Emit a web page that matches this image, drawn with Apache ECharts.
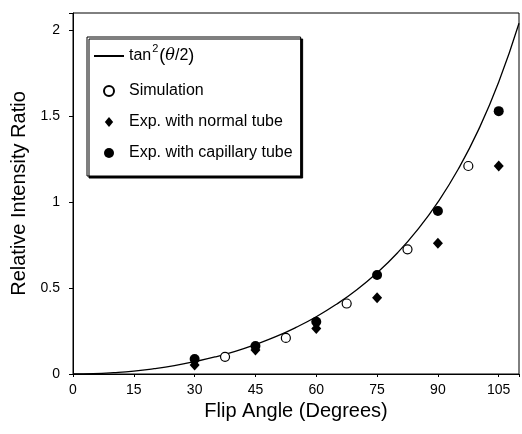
<!DOCTYPE html>
<html>
<head>
    <meta charset="utf-8"/>
    <title>Flip angle</title>
    <script src="https://cdn.jsdelivr.net/npm/echarts@6/dist/echarts.min.js"></script>
    <style>
        html, body { margin: 0; padding: 0; background: #fff; }
        #main { width: 522px; height: 434px; }
    </style>
</head>
<body>
<div id="main"></div>
<script>
    // curve (tan^2(theta/2))
    var curveAngles = [0, 5, 10, 15, 20, 25, 30, 35, 40, 45, 50, 55, 60, 65, 70, 75, 80, 85, 90, 95, 100, 105, 110];
    var curveValues = [0, 0.002, 0.008, 0.017, 0.031, 0.049, 0.072, 0.099, 0.132, 0.172, 0.217, 0.271, 0.333, 0.406, 0.49, 0.589, 0.704, 0.84, 1.0, 1.191, 1.42, 1.698, 2.04];

    // simulation (open circles)
    var simAngles = [37.5, 52.5, 67.5, 82.5, 97.5];
    var simValues = [0.10, 0.21, 0.41, 0.725, 1.21];

    // exp. with normal tube (diamonds)
    var expAngles = [30, 45, 60, 75, 90, 105];
    var normalValues = [0.052, 0.14, 0.265, 0.444, 0.76, 1.21];

    // exp. with capillary tube (filled circles)
    var capillaryValues = [0.087, 0.163, 0.304, 0.576, 0.948, 1.529];

    var xTicks = [0, 15, 30, 45, 60, 75, 90, 105];
    var yTicks = [0, 0.5, 1, 1.5, 2];

    function pairs(xs, ys) {
        return xs.map(function (x, i) { return [x, ys[i]]; });
    }

    var font = '"Liberation Sans", Arial, Helvetica, sans-serif';
    // legend diamond: the extra move-to points keep the icon box wide
    var diamondIcon = 'path://M0,-1M30,11M10,5L15,-1L20,5L15,11Z';

    var myChart = echarts.init(document.getElementById('main'));
    var option = {
        animation: false,
        textStyle: { fontFamily: font, color: '#000' },
        grid: {
            left: 73, right: 1, top: 13, bottom: 60,
            show: true, borderColor: '#000', borderWidth: 1
        },
        legend: {
            orient: 'vertical',
            left: 87, top: 37,
            padding: [6, 8, 14, 6],
            itemWidth: 30, itemHeight: 10, itemGap: 13,
            backgroundColor: '#fff',
            borderColor: '#000', borderWidth: 1,
            shadowColor: '#000', shadowOffsetX: 2, shadowOffsetY: 2, shadowBlur: 0,
            selectedMode: false,
            textStyle: {
                fontFamily: font, fontSize: 16, color: '#000', lineHeight: 18,
                rich: {
                    t: { fontFamily: font, fontSize: 16, color: '#000', lineHeight: 26 },
                    s: { fontFamily: font, fontSize: 11, color: '#000', verticalAlign: 'top', padding: [0, 1, 6, 1] },
                    i: { fontFamily: '"DejaVu Serif", serif', fontStyle: 'italic', fontSize: 16, color: '#000' },
                    p: { fontFamily: font, fontSize: 18, color: '#000' }
                }
            },
            formatter: function (name) {
                if (name === 'tan2') return '{t|tan}{s|2}{p|(}{i|θ}{t|/2}{p|)}';
                return name;
            },
            data: [
                { name: 'tan2', itemStyle: { color: 'rgba(0,0,0,0)', borderColor: 'rgba(0,0,0,0)', borderWidth: 0, opacity: 0 } },
                { name: 'Simulation' },
                { name: 'Exp. with normal tube', icon: diamondIcon },
                { name: 'Exp. with capillary tube' }
            ]
        },
        xAxis: {
            type: 'value',
            min: 0, max: 110, interval: 15,
            name: 'Flip Angle (Degrees)',
            nameLocation: 'middle', nameGap: 26,
            nameTextStyle: { fontFamily: font, fontSize: 20, color: '#000' },
            axisLine: { onZero: false, lineStyle: { color: '#000', width: 1 } },
            axisTick: { show: true, length: 3, lineStyle: { color: '#000' } },
            axisLabel: {
                fontFamily: font, fontSize: 14, color: '#000', margin: 9,
                formatter: function (v) { return xTicks.indexOf(v) >= 0 ? String(v) : ''; }
            },
            splitLine: { show: false }
        },
        yAxis: {
            type: 'value',
            min: 0, max: 2.1, interval: 0.5,
            name: 'Relative Intensity Ratio',
            nameLocation: 'middle', nameGap: 41,
            nameTextStyle: { fontFamily: font, fontSize: 20, color: '#000' },
            axisLine: { show: true, lineStyle: { color: '#000', width: 1 } },
            axisTick: { show: true, length: 4, lineStyle: { color: '#000' } },
            axisLabel: {
                fontFamily: font, fontSize: 14, color: '#000', margin: 13,
                formatter: function (v) { return yTicks.indexOf(v) >= 0 ? String(v) : ''; }
            },
            splitLine: { show: false }
        },
        series: [
            {
                name: 'tan2',
                type: 'line',
                data: pairs(curveAngles, curveValues),
                smooth: true,
                symbol: 'none',
                lineStyle: { color: '#000', width: 1.3 },
                itemStyle: { color: '#000' },
                z: 1
            },
            {
                name: 'Simulation',
                type: 'scatter',
                data: pairs(simAngles, simValues),
                symbol: 'circle',
                symbolSize: 9,
                itemStyle: { color: '#fff', borderColor: '#000', borderWidth: 1.2, opacity: 1 },
                z: 3
            },
            {
                name: 'Exp. with normal tube',
                type: 'scatter',
                data: pairs(expAngles, normalValues),
                symbol: 'diamond',
                symbolSize: [10, 11],
                itemStyle: { color: '#000', opacity: 1 },
                z: 3
            },
            {
                name: 'Exp. with capillary tube',
                type: 'scatter',
                data: pairs(expAngles, capillaryValues),
                symbol: 'circle',
                symbolSize: 10,
                itemStyle: { color: '#000', opacity: 1 },
                z: 4
            }
        ]
    };
    myChart.setOption(option);
    window.onresize = function () {
        myChart.resize();
    };
</script>
</body>
</html>
